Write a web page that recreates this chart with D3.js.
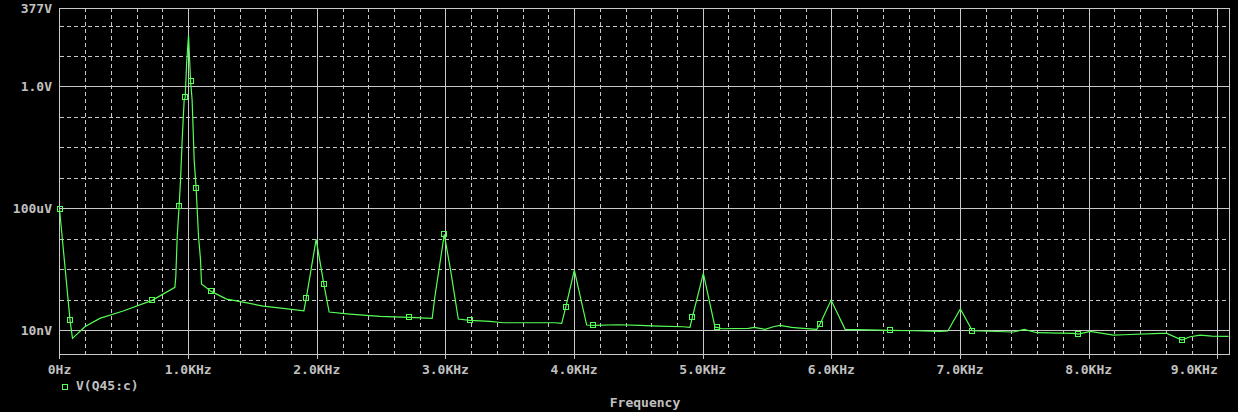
<!DOCTYPE html>
<html><head><meta charset="utf-8">
<script src="https://cdn.jsdelivr.net/npm/d3@7"></script>
<style>html,body{margin:0;padding:0;background:#000;}svg{display:block;}</style>
</head><body>
<script>
// ---- data ----
const freqHz = [0, 82, 101, 197, 313, 495, 720, 897, 904, 915, 930, 941, 953, 969, 977, 988, 1003, 1019, 1031, 1047, 1062, 1081, 1096, 1104, 1179, 1299, 1376, 1583, 1739, 1900, 1918, 1995, 2055, 2096, 2257, 2491, 2719, 2897, 2918, 2991, 3040, 3100, 3190, 3346, 3449, 3851, 3904, 3935, 4002, 4098, 4149, 4344, 4512, 4655, 4849, 4901, 4919, 5005, 5096, 5114, 5148, 5355, 5401, 5485, 5549, 5601, 5692, 5757, 5886, 5912, 5998, 6107, 6459, 6651, 6845, 6905, 7003, 7079, 7096, 7415, 7499, 7597, 7882, 7921, 8012, 8193, 8271, 8556, 8608, 8725, 8789, 8867, 8958, 9087];
const voltQ45c = [9.4e-5, 2.08e-8, 5.33e-9, 1.28e-8, 2.41e-8, 4.2e-8, 9.4e-8, 2.52e-7, 5.6e-7, 1.15e-5, 1.22e-4, 8.4e-4, 1.52e-2, 0.355, 0.435, 5.4, 48, 1.46, 0.355, 3.8e-3, 4.48e-4, 1.15e-5, 2.09e-6, 3.23e-7, 1.86e-7, 1.04e-7, 9.1e-8, 6.1e-8, 5.15e-8, 4.3e-8, 1.10e-7, 9.5e-6, 3.23e-7, 3.9e-8, 3.35e-8, 2.81e-8, 2.61e-8, 2.42e-8, 1.24e-7, 1.38e-5, 9.3e-7, 2.29e-8, 2.08e-8, 1.93e-8, 1.73e-8, 1.73e-8, 1.66e-8, 5.55e-8, 9.3e-7, 1.46e-8, 1.42e-8, 1.49e-8, 1.42e-8, 1.35e-8, 1.28e-8, 1.22e-8, 2.61e-8, 7.26e-7, 1.22e-8, 1.22e-8, 1.10e-8, 1.13e-8, 1.22e-8, 1.05e-8, 1.28e-8, 1.42e-8, 1.22e-8, 1.16e-8, 1.05e-8, 1.57e-8, 9.6e-8, 1.05e-8, 9.76e-9, 9.46e-9, 9.05e-9, 9.26e-9, 4.89e-8, 1.28e-8, 9.46e-9, 8.6e-9, 1.05e-8, 8.15e-9, 7.78e-9, 7.38e-9, 9.05e-9, 6.84e-9, 7.0e-9, 7.78e-9, 7.78e-9, 4.69e-9, 6.0e-9, 6.84e-9, 6.34e-9, 6.2e-9];
const markerFreqs = [0, 82, 720, 930, 977, 1019, 1062, 1179, 1918, 2055, 2719, 2991, 3190, 3935, 4149, 4919, 5114, 5912, 6459, 7096, 7921, 8725];
const xTickValues = [0, 1000, 2000, 3000, 4000, 5000, 6000, 7000, 8000, 9000];
const xTickLabels = ["0Hz", "1.0KHz", "2.0KHz", "3.0KHz", "4.0KHz", "5.0KHz", "6.0KHz", "7.0KHz", "8.0KHz", "9.0KHz"];
const yTickValues = [377, 1, 1e-4, 1e-8];
const yTickLabels = ["377V", "1.0V", "100uV", "10nV"];
const yDecades = [1e-7, 1e-6, 1e-5, 1e-3, 1e-2, 1e-1, 10, 100];
const seriesName = "V(Q45:c)";
const xTitle = "Frequency";

// ---- layout ----
const W = 1238, H = 412;
const L = 59.5, R = 1229.5, T = 8, B = 354.5;
const GRID = "#c8c8c8", TXT = "#c0c0c0", GREEN = "#55ff55";
const FONT = "'DejaVu Sans Mono', monospace";
const FS = "13px";

const svg = d3.select("body").append("svg").attr("width", W).attr("height", H)
  .style("background", "#000");

const x = d3.scaleLinear().domain([0, 9095]).range([L, R]);
const y = d3.scaleLog().domain([1.57e-9, 377]).range([B, T]);

const g = svg.append("g").attr("shape-rendering", "crispEdges");

// minor vertical dashed grid (every 200 Hz)
const minorX = d3.range(200, 9095, 200).filter(f => f % 1000 !== 0);
g.selectAll("line.vmin").data(minorX).join("line")
  .attr("x1", d => Math.round(x(d)) + 0.5).attr("x2", d => Math.round(x(d)) + 0.5)
  .attr("y1", T).attr("y2", B)
  .attr("stroke", GRID).attr("stroke-dasharray", "4,3");
// major vertical solid grid
g.selectAll("line.vmaj").data(xTickValues.slice(1)).join("line")
  .attr("x1", d => Math.round(x(d)) + 0.5).attr("x2", d => Math.round(x(d)) + 0.5)
  .attr("y1", T).attr("y2", B + 4)
  .attr("stroke", GRID);
// horizontal dashed decades
g.selectAll("line.hmin").data(yDecades).join("line")
  .attr("x1", L).attr("x2", R)
  .attr("y1", d => Math.round(y(d)) + 0.5).attr("y2", d => Math.round(y(d)) + 0.5)
  .attr("stroke", GRID).attr("stroke-dasharray", "4,3");
// horizontal solid
g.selectAll("line.hmaj").data(yTickValues.slice(1)).join("line")
  .attr("x1", L).attr("x2", R)
  .attr("y1", d => Math.round(y(d)) + 0.5).attr("y2", d => Math.round(y(d)) + 0.5)
  .attr("stroke", GRID);
// frame
g.append("rect").attr("x", L).attr("y", T).attr("width", R - L).attr("height", B - T)
  .attr("fill", "none").attr("stroke", GRID);
// bottom minor ticks
g.selectAll("line.tick").data(minorX).join("line")
  .attr("x1", d => Math.round(x(d)) + 0.5).attr("x2", d => Math.round(x(d)) + 0.5)
  .attr("y1", B - 4).attr("y2", B).attr("stroke", GRID);
g.append("line").attr("x1", L).attr("x2", L).attr("y1", B).attr("y2", B + 4).attr("stroke", GRID);

// trace
const pts = freqHz.map((f, i) => [f, voltQ45c[i]]);
svg.append("path").datum(pts)
  .attr("d", d3.line().x(d => x(d[0])).y(d => y(d[1])))
  .attr("fill", "none").attr("stroke", GREEN).attr("stroke-width", 1.2);

// markers
const mk = markerFreqs.map(f => pts[freqHz.indexOf(f)]);
svg.selectAll("rect.mk").data(mk).join("rect")
  .attr("x", d => Math.round(x(d[0])) - 2.5).attr("y", d => Math.round(y(d[1])) - 2.5)
  .attr("width", 5).attr("height", 5)
  .attr("fill", "none").attr("stroke", GREEN).attr("shape-rendering", "crispEdges");

// axis labels (last one right-aligned on its tick so it stays inside the window)
const lastX = xTickValues.length - 1;
svg.selectAll("text.xl").data(xTickValues).join("text")
  .attr("x", (d, i) => i === lastX ? x(d) + 0.5 : x(d)).attr("y", 374)
  .attr("text-anchor", (d, i) => i === lastX ? "end" : "middle").attr("fill", TXT)
  .style("font-family", FONT).style("font-size", FS).style("font-weight", "bold")
  .text((d, i) => xTickLabels[i]);
svg.selectAll("text.yl").data(yTickValues).join("text")
  .attr("x", 52).attr("y", d => y(d) + 4.5)
  .attr("text-anchor", "end").attr("fill", TXT)
  .style("font-family", FONT).style("font-size", FS).style("font-weight", "bold")
  .text((d, i) => yTickLabels[i]);

// legend
svg.append("rect").attr("x", 62).attr("y", 384.5).attr("width", 5).attr("height", 5)
  .attr("fill", "none").attr("stroke", GREEN).attr("shape-rendering", "crispEdges");
svg.append("text").attr("x", 76).attr("y", 389.5).attr("fill", TXT)
  .style("font-family", FONT).style("font-size", FS).style("font-weight", "bold")
  .text(seriesName);

svg.append("text").attr("x", 645).attr("y", 407).attr("text-anchor", "middle").attr("fill", TXT)
  .style("font-family", FONT).style("font-size", FS).style("font-weight", "bold")
  .text(xTitle);
</script>
</body></html>
